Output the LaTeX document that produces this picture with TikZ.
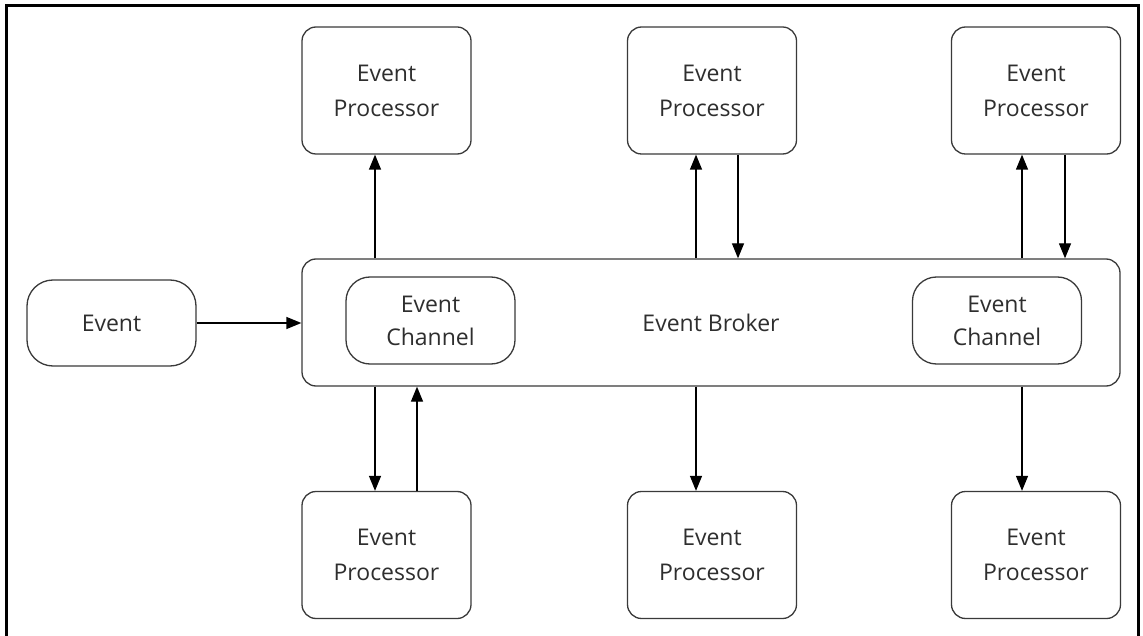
\documentclass[tikz,border=0pt]{standalone}
\usepackage{fontspec}
\setmainfont{Open Sans}
\usetikzlibrary{arrows.meta}
\definecolor{edgegray}{HTML}{3A3A3A}
\definecolor{textgray}{HTML}{2E2E2E}
\begin{document}
\begin{tikzpicture}[x=1pt,y=-1pt,
  box/.style={draw=edgegray, line width=1.3pt, fill=white, align=center,
    text=textgray, inner sep=0pt, font=\fontsize{23}{35}\selectfont},
  proc/.style={box, rounded corners=14pt, minimum width=169pt, minimum height=127pt},
  chan/.style={box, rounded corners=24pt, minimum width=169pt, minimum height=87pt,
    font=\fontsize{23}{33}\selectfont},
  evbox/.style={box, rounded corners=26pt, minimum width=169pt, minimum height=86pt},
  brokerbox/.style={box, rounded corners=14pt, minimum width=818pt, minimum height=127pt},
  flow/.style={draw=black, line width=1.3pt, -{Triangle[length=15pt,width=12pt]}}
]
\useasboundingbox (0,0) rectangle (1143,636);

% outer frame, open at the bottom edge of the page
\draw[line width=3pt] (6,636) -- (6,6) -- (1138,6) -- (1138,636);

% broker with its two channels
\node[brokerbox] (broker) at (711,322.5) {Event Broker};
\node[chan] (chanL) at (430.5,320.5) {Event\\Channel};
\node[chan] (chanR) at (997,320.5) {Event\\Channel};

% incoming event
\node[evbox] (event) at (111.5,323) {Event};

% processors above and below the broker
\node[proc] (tp1) at (386.5,90.5) {Event\\Processor};
\node[proc] (tp2) at (712,90.5)   {Event\\Processor};
\node[proc] (tp3) at (1036,90.5)  {Event\\Processor};
\node[proc] (bp1) at (386.5,555)  {Event\\Processor};
\node[proc] (bp2) at (712,555)    {Event\\Processor};
\node[proc] (bp3) at (1036,555)   {Event\\Processor};

% columns of the connectors
\coordinate (c1) at (375,0);
\coordinate (c2) at (417,0);
\coordinate (c3) at (696,0);
\coordinate (c4) at (738,0);
\coordinate (c5) at (1022,0);
\coordinate (c6) at (1065,0);

% event into broker
\draw[flow] (event.east) -- (broker.west |- event.east);

% upper connectors
\draw[flow] (broker.north -| c1) -- (tp1.south -| c1);
\draw[flow] (broker.north -| c3) -- (tp2.south -| c3);
\draw[flow] (tp2.south -| c4) -- (broker.north -| c4);
\draw[flow] (broker.north -| c5) -- (tp3.south -| c5);
\draw[flow] (tp3.south -| c6) -- (broker.north -| c6);

% lower connectors
\draw[flow] (broker.south -| c1) -- (bp1.north -| c1);
\draw[flow] (bp1.north -| c2) -- (broker.south -| c2);
\draw[flow] (broker.south -| c3) -- (bp2.north -| c3);
\draw[flow] (broker.south -| c5) -- (bp3.north -| c5);
\end{tikzpicture}
\end{document}
